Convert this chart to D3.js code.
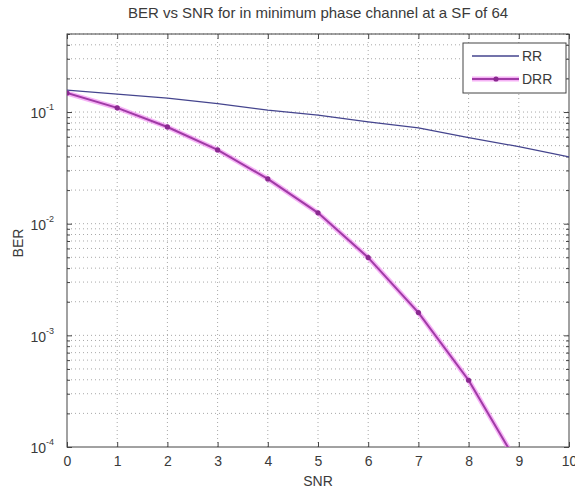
<!DOCTYPE html>
<html>
<head>
<meta charset="utf-8">
<script src="https://d3js.org/d3.v7.min.js"></script>
<style>
  body { margin: 0; background: #fff; }
  text { font-family: "Liberation Sans", Arial, sans-serif; fill: #3a3a3a; }
  .axis path { display: none; }
  .axis line { stroke: #444; }
  .grid line { stroke: #a8a8a8; stroke-dasharray: 1,3; }
</style>
</head>
<body>
<script>
// values
var snr = [0, 1, 2, 3, 4, 5, 6, 7, 8, 9, 10];
var berRR = [0.157, 0.145, 0.133, 0.119, 0.104, 0.094, 0.0815, 0.072, 0.059, 0.049, 0.0397];
var berDRR = [0.148, 0.109, 0.0735, 0.0458, 0.0252, 0.0125, 0.00497, 0.0016, 0.000396, 0.000068, 0.000008];
var xTicks = [0, 1, 2, 3, 4, 5, 6, 7, 8, 9, 10];
var yDecades = [1e-4, 1e-3, 1e-2, 1e-1];
var seriesNames = ["RR", "DRR"];

function draw() {
  var width = 575, height = 488;
  var mLeft = 67, mRight = 569, mTop = 34, mBottom = 447;

  var svg = d3.select("body").append("svg")
    .attr("width", width)
    .attr("height", height);

  var x = d3.scaleLinear().domain([0, 10]).range([mLeft, mRight]);
  var y = d3.scaleLog().domain([1e-4, 0.5]).range([mBottom, mTop]);

  // minor y values
  var yMinor = [];
  yDecades.forEach(function (d) {
    for (var k = 2; k <= 9; k++) {
      if (d * k <= 0.5) yMinor.push(d * k);
    }
  });

  // grid
  var grid = svg.append("g").attr("class", "grid");
  grid.selectAll(".gx").data(xTicks.slice(1, -1)).enter().append("line")
    .attr("x1", function (d) { return x(d); }).attr("x2", function (d) { return x(d); })
    .attr("y1", mTop).attr("y2", mBottom);
  grid.selectAll(".gy").data(yDecades.slice(1).concat(yMinor)).enter().append("line")
    .attr("x1", mLeft).attr("x2", mRight)
    .attr("y1", function (d) { return y(d); }).attr("y2", function (d) { return y(d); });

  // axes (inward ticks, mirrored)
  svg.append("g").attr("class", "axis")
    .attr("transform", "translate(0," + mBottom + ")")
    .call(d3.axisBottom(x).tickValues(xTicks).tickSizeInner(-5).tickSizeOuter(0).tickPadding(9))
    .selectAll("text").attr("font-size", 14);
  svg.append("g").attr("class", "axis")
    .attr("transform", "translate(0," + mTop + ")")
    .call(d3.axisTop(x).tickValues(xTicks).tickSizeInner(-5).tickSizeOuter(0).tickFormat(""));

  var yAxis = svg.append("g").attr("class", "axis")
    .attr("transform", "translate(" + mLeft + ",0)")
    .call(d3.axisLeft(y).tickValues(yDecades).tickSizeInner(-5).tickSizeOuter(0).tickPadding(13)
      .tickFormat(function () { return "10"; }));
  yAxis.selectAll("text").attr("font-size", 14).attr("dy", "0.42em")
    .append("tspan").attr("dy", -8).attr("font-size", 9)
    .text(function (d) { return "-" + Math.round(-Math.log10(d)); });
  svg.append("g").attr("class", "axis")
    .attr("transform", "translate(" + mLeft + ",0)")
    .call(d3.axisLeft(y).tickValues(yMinor).tickSizeInner(-3).tickSizeOuter(0).tickFormat(""));
  svg.append("g").attr("class", "axis")
    .attr("transform", "translate(" + mRight + ",0)")
    .call(d3.axisRight(y).tickValues(yDecades).tickSizeInner(-5).tickSizeOuter(0).tickFormat(""));
  svg.append("g").attr("class", "axis")
    .attr("transform", "translate(" + mRight + ",0)")
    .call(d3.axisRight(y).tickValues(yMinor).tickSizeInner(-3).tickSizeOuter(0).tickFormat(""));

  // frame
  svg.append("rect")
    .attr("x", mLeft).attr("y", mTop)
    .attr("width", mRight - mLeft).attr("height", mBottom - mTop)
    .attr("fill", "none").attr("stroke", "#444");

  // data
  svg.append("clipPath").attr("id", "clip")
    .append("rect").attr("x", mLeft).attr("y", mTop)
    .attr("width", mRight - mLeft).attr("height", mBottom - mTop);
  var plot = svg.append("g").attr("clip-path", "url(#clip)");

  var line = d3.line()
    .x(function (d, i) { return x(snr[i]); })
    .y(function (d) { return y(d); });

  plot.append("path").datum(berRR)
    .attr("d", line).attr("fill", "none")
    .attr("stroke", "#45458e").attr("stroke-width", 1.3);

  plot.append("path").datum(berDRR)
    .attr("d", line).attr("fill", "none")
    .attr("stroke", "#f080f0").attr("stroke-width", 5).attr("opacity", 0.6);
  plot.append("path").datum(berDRR)
    .attr("d", line).attr("fill", "none")
    .attr("stroke", "#a03aa6").attr("stroke-width", 2);
  plot.selectAll(".m").data(berDRR).enter().append("circle")
    .attr("cx", function (d, i) { return x(snr[i]); })
    .attr("cy", function (d) { return y(d); })
    .attr("r", 2.6).attr("fill", "#8a2a90");

  // legend
  var lg = svg.append("g");
  lg.append("rect").attr("x", 463).attr("y", 43).attr("width", 103).attr("height", 50)
    .attr("fill", "#fff").attr("stroke", "#444");
  lg.append("line").attr("x1", 472).attr("x2", 519).attr("y1", 56).attr("y2", 56)
    .attr("stroke", "#45458e").attr("stroke-width", 1.3);
  lg.append("line").attr("x1", 472).attr("x2", 519).attr("y1", 79).attr("y2", 79)
    .attr("stroke", "#f080f0").attr("stroke-width", 5).attr("opacity", 0.6);
  lg.append("line").attr("x1", 472).attr("x2", 519).attr("y1", 79).attr("y2", 79)
    .attr("stroke", "#a03aa6").attr("stroke-width", 2);
  lg.append("circle").attr("cx", 496).attr("cy", 79).attr("r", 2.6).attr("fill", "#8a2a90");
  lg.selectAll(".lt").data(seriesNames).enter().append("text")
    .attr("x", 522).attr("y", function (d, i) { return 61 + i * 23; })
    .attr("font-size", 14).text(function (d) { return d; });

  // titles
  svg.append("text").attr("x", 318).attr("y", 18)
    .attr("text-anchor", "middle").attr("font-size", 15)
    .text("BER vs SNR for in minimum phase channel at a SF of 64");
  svg.append("text").attr("x", (mLeft + mRight) / 2).attr("y", 486)
    .attr("text-anchor", "middle").attr("font-size", 14).text("SNR");
  svg.append("text").attr("transform", "translate(23,243) rotate(-90)")
    .attr("text-anchor", "middle").attr("font-size", 14).text("BER");
}

draw();
</script>
</body>
</html>
